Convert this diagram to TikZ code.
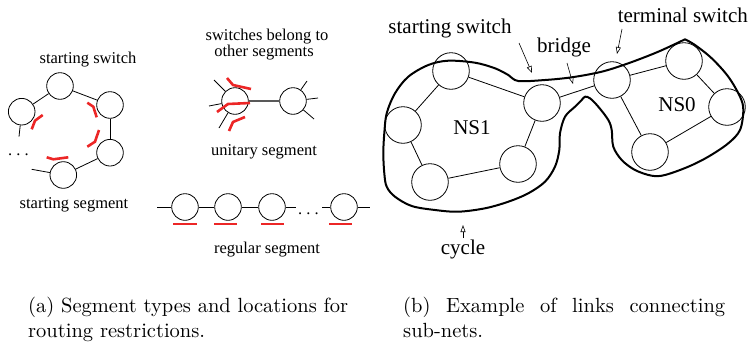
\documentclass[tikz,border=0pt]{standalone}
\usepackage{fontspec}
\newfontfamily\tms{Liberation Serif}
\newfontfamily\capfont{lmroman10-regular.otf}
\usetikzlibrary{arrows.meta}
\definecolor{myred}{RGB}{236,38,38}
\begin{document}
\begin{tikzpicture}[x=1pt,y=-1pt,
  sw/.style={draw,circle,line width=0.8pt,minimum size=26.6pt,inner sep=0pt},
  bigsw/.style={draw,circle,line width=0.8pt,minimum size=36.6pt,inner sep=0pt},
  lnk/.style={line width=0.8pt},
  stub/.style={line width=0.8pt},
  redmark/.style={draw=myred,line width=2.6pt},
  lblA/.style={font=\tms\fontsize{16.5}{19}\selectfont,inner sep=0pt},
  lblB/.style={font=\tms\fontsize{21}{24}\selectfont,inner sep=0pt},
  captext/.style={font=\capfont\fontsize{20.5}{25}\selectfont,inner sep=0pt,anchor=base west},
  cyc/.style={line width=2pt,line join=round},
  ptr/.style={line width=0.6pt,-{Triangle[open,length=7pt,width=5pt]}}]
\useasboundingbox (0,0) rectangle (749,343);

% ---------- starting segment ----------
\node[lblA] (lss) at (88,60) {starting switch};
\node[sw] (a1) at (60,86) {};
\node[sw] (a2) at (21.7,111.7) {};
\node[sw] (a3) at (110,105) {};
\node[sw] (a4) at (110,152.7) {};
\node[sw] (a5) at (63.3,175) {};
\draw[lnk] (a2) -- (a1);
\draw[lnk] (a1) -- (a3);
\draw[lnk] (a3) -- (a4);
\draw[lnk] (a4) -- (a5);
\coordinate (a2s) at (19,136.7);
\coordinate (a5s) at (31.7,169.3);
\draw[stub] (a2) -- (a2s);
\draw[stub] (a5s) -- (a5);
\node[lblA,anchor=base] (adots) at (18.5,155) {.\ .\ .};
\draw[redmark] (31.7,129.3) -- (35,120.7) -- (42.7,115);
\draw[redmark] (87.3,102.7) -- (93.3,106.7) -- (96.7,117.3);
\draw[redmark] (87.3,146.7) -- (95,141.7) -- (99,130);
\draw[redmark] (46.7,157.3) -- (53.3,159.3) -- (68.3,157.3);
\node[lblA] (lsseg) at (74,205) {starting segment};

% ---------- unitary segment ----------
\node[lblA] (lsw1) at (267,37) {switches belong to};
\node[lblA] (lsw2) at (264,53) {other segments};
\node[sw] (u1) at (235,101) {};
\node[sw] (u2) at (293,101) {};
\draw[line width=1.3pt,draw=black!65] (u1) -- (u2);
\coordinate (u1a) at (214,80);
\coordinate (u1b) at (209,106);
\coordinate (u1c) at (219,128);
\coordinate (u2a) at (307,81);
\coordinate (u2b) at (318,98);
\coordinate (u2c) at (314,119);
\draw[stub] (u1) -- (u1a);
\draw[stub] (u1) -- (u1b);
\draw[stub] (u1) -- (u1c);
\draw[stub] (u2) -- (u2a);
\draw[stub] (u2) -- (u2b);
\draw[stub] (u2) -- (u2c);
\draw[redmark] (227,78) -- (233,85) -- (251,89);
\draw[redmark] (217,112) -- (228,104) -- (250,103);
\draw[redmark] (229,131) -- (233,122) -- (245,117);
\node[lblA] (luni) at (264,152) {unitary segment};

% ---------- regular segment ----------
\node[sw] (r1) at (185,207) {};
\node[sw] (r2) at (228,207) {};
\node[sw] (r3) at (272,207) {};
\node[sw] (r4) at (344,207) {};
\coordinate (r0) at (157,207);
\coordinate (r3e) at (296,207);
\coordinate (r4s) at (322,207);
\coordinate (r5) at (370,207);
\draw[lnk] (r0) -- (r1);
\draw[lnk] (r1) -- (r2);
\draw[lnk] (r2) -- (r3);
\draw[lnk] (r3) -- (r3e);
\draw[lnk] (r4s) -- (r4);
\draw[lnk] (r4) -- (r5);
\node[lblA,anchor=base] (rdots) at (308.5,214) {.\ .\ .};
\draw[redmark] (173,224) -- (197,224);
\draw[redmark] (214,224) -- (237,224);
\draw[redmark] (261,224) -- (284,224);
\draw[redmark] (329,224) -- (352,224);
\node[lblA] (lreg) at (267,250) {regular segment};

% ---------- sub-nets (b) ----------
\draw[cyc] plot[smooth,tension=0.55] coordinates {
(685,39.3) (695,45) (711.7,58.3) (728.3,76.7) (740,96.7) (743.3,110) (740,130)
(728.3,143.3) (708.3,156.7) (688.3,166.7) (665,175) (651.7,175.7) (635,170)
(621.7,160) (613.3,146.7) (611.7,130) (608.3,120) (598.3,106.7) (590,98.3)
(585,96.7) (581.7,100) (575,106.7) (565,116.7) (560,133.3) (559.3,150)
(555,166.7) (545,181.7) (528.3,193.3) (508.3,201.7) (485,208.3) (458.3,211.7)
(435,210) (411.7,206) (395,196.7) (386.7,186.7) (384.3,173.3) (383.3,153.3)
(384.3,133.3) (386.7,113.3) (395,93.3) (408.3,76.7) (428.3,65) (448.3,60.7)
(475,62.7) (495,68.3) (508.3,75) (518.3,81) (545,80) (571.7,77.3)
(601.7,71.7) (628.3,63.3) (658.3,51.7) (685,39.3)} -- cycle;

\node[bigsw] (c1) at (451,71) {};
\node[bigsw] (c2) at (403,125) {};
\node[bigsw] (c3) at (430,182) {};
\node[bigsw] (c4) at (518,164) {};
\node[bigsw] (c5) at (542,103) {};
\node[bigsw] (c6) at (612,80) {};
\node[bigsw] (c7) at (684,61) {};
\node[bigsw] (c8) at (727,107) {};
\node[bigsw] (c9) at (650,152) {};
\draw[lnk] (c1) -- (c2);
\draw[lnk] (c2) -- (c3);
\draw[lnk] (c3) -- (c4);
\draw[lnk] (c4) -- (c5);
\draw[lnk] (c5) -- (c1);
\draw[lnk] (c5) -- (c6);
\draw[lnk] (c6) -- (c7);
\draw[lnk] (c7) -- (c8);
\draw[lnk] (c8) -- (c9);
\draw[lnk] (c9) -- (c6);

\node[lblB] (ns1) at (472,128) {NS1};
\node[lblB] (ns0) at (677,105) {NS0};
\node[lblB] (bss) at (450,28) {starting switch};
\node[lblB] (bbr) at (564,47) {bridge};
\node[lblB,anchor=east] (bts) at (748,15) {terminal switch};
\node[lblB] (bcy) at (463,249) {cycle};

\coordinate (pss0) at (519,43);
\coordinate (pss1) at (532,73);
\coordinate (pbr0) at (567,63);
\coordinate (pbr1) at (573,84);
\coordinate (pts0) at (622,29);
\coordinate (pts1) at (617,54);
\coordinate (pcy0) at (463,238);
\coordinate (pcy1) at (463,225);
\draw[ptr] (pss0) -- (pss1);
\draw[ptr] (pbr0) -- (pbr1);
\draw[ptr] (pts0) -- (pts1);
\draw[ptr] (pcy0) -- (pcy1);

% ---------- captions ----------
\node[captext] (capa1) at (28,312) {\makebox[320pt][s]{(a) Segment types and locations for}};
\node[captext] (capa2) at (28,337) {routing restrictions.};
\node[captext] (capb1) at (403,312) {\makebox[322pt][s]{(b) Example of links connecting}};
\node[captext] (capb2) at (403,337) {sub-nets.};
\end{tikzpicture}
\end{document}
